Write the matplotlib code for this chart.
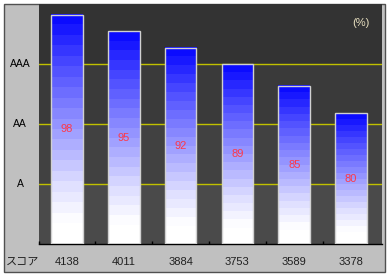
import numpy as np
import matplotlib
matplotlib.use("Agg")
import matplotlib.pyplot as plt
from matplotlib.patches import Rectangle
from matplotlib.transforms import blended_transform_factory

scores = ["4138", "4011", "3884", "3753", "3589", "3378"]
values = [98, 95, 92, 89, 85, 80]
grade_labels = ["AAA", "AA", "A"]
grade_levels = [89, 78, 67]
y_min, y_max = 56, 100

W, H = 389, 276
fig = plt.figure(figsize=(W / 100, H / 100), dpi=100, facecolor="white")

# outer frame (gray panel)
fig.patches.append(Rectangle((3.5 / W, 1 - 272 / H), (385 - 3.5) / W, (272 - 3.5) / H,
                             transform=fig.transFigure, facecolor="#c0c0c0",
                             edgecolor="#505050", linewidth=1, zorder=-5))

L, R, T, B = 38.5, 382, 4, 244
ax = fig.add_axes([L / W, 1 - B / H, (R - L) / W, (B - T) / H])
x = np.arange(len(values))

# background bands
band_edges = [y_min] + sorted(grade_levels) + [y_max]
band_colors = ["#4a4a4a", "#414141", "#3a3a3a", "#333333"]
for (lo, hi), c in zip(zip(band_edges[:-1], band_edges[1:]), band_colors):
    ax.axhspan(lo, hi, color=c, zorder=0, lw=0)
for g in grade_levels:
    ax.axhline(g, color="#c0c000", lw=1.0, zorder=1)

# gradient bars (stepped, white at bottom to blue at top)
bw = 0.56
nsteps = 22
t = (np.arange(nsteps) + 0.5) / nsteps
s = np.interp(t, [0, 0.1, 0.26, 0.5, 0.78, 0.93, 1.0],
              [0, 0, 0.13, 0.4, 0.72, 0.92, 1.0])
cols = np.stack([0.02 + 0.98 * (1 - s), 0.02 + 0.98 * (1 - s), np.ones_like(s)], axis=1)
img = cols[:, None, :]
for xi, v in zip(x, values):
    ax.imshow(img, extent=(xi - bw / 2, xi + bw / 2, y_min, v), origin="lower",
              aspect="auto", interpolation="nearest", zorder=2)
    ax.add_patch(Rectangle((xi - bw / 2, y_min), bw, v - y_min, fill=False,
                           edgecolor="#d0d0d0", lw=1.0, zorder=3))
    ax.text(xi, (y_min + v) / 2, str(v), color="#ff3848", fontsize=8,
            ha="center", va="center", family="Liberation Sans", zorder=4)
ax.set_xlim(-0.482, 5.544)
ax.set_ylim(y_min, y_max)

for sp in ["top", "right", "left"]:
    ax.spines[sp].set_visible(False)
ax.spines["bottom"].set_color("black")
ax.spines["bottom"].set_linewidth(1)
ax.set_yticks([])
ax.set_xticks(np.arange(-0.5, 5.0, 1.0))
ax.tick_params(axis="x", direction="in", length=2.5, width=1, color="black",
               labelbottom=False)

tr = blended_transform_factory(ax.transData, fig.transFigure)
for xi, sc in zip(x, scores):
    ax.text(xi, 1 - 262 / H, sc, transform=tr, ha="center", va="center",
            fontsize=8, color="#202020", family="Liberation Sans", clip_on=False)
fig.text(23 / W, 1 - 262 / H, "スコア", ha="center", va="center", fontsize=8,
         color="#202020", family=["Noto Sans CJK JP", "DejaVu Sans"])

tr2 = blended_transform_factory(fig.transFigure, ax.transData)
for lab, g in zip(grade_labels, grade_levels):
    ax.text(20 / W, g, lab, transform=tr2, ha="center", va="center", fontsize=7.5,
            color="black", family="Liberation Sans", clip_on=False)

fig.text(361 / W, 1 - 23 / H, "(%)", ha="center", va="center", fontsize=8,
         color="#e8e0c0", family="Liberation Sans")

fig.savefig("out.png", dpi=100, facecolor="white")
